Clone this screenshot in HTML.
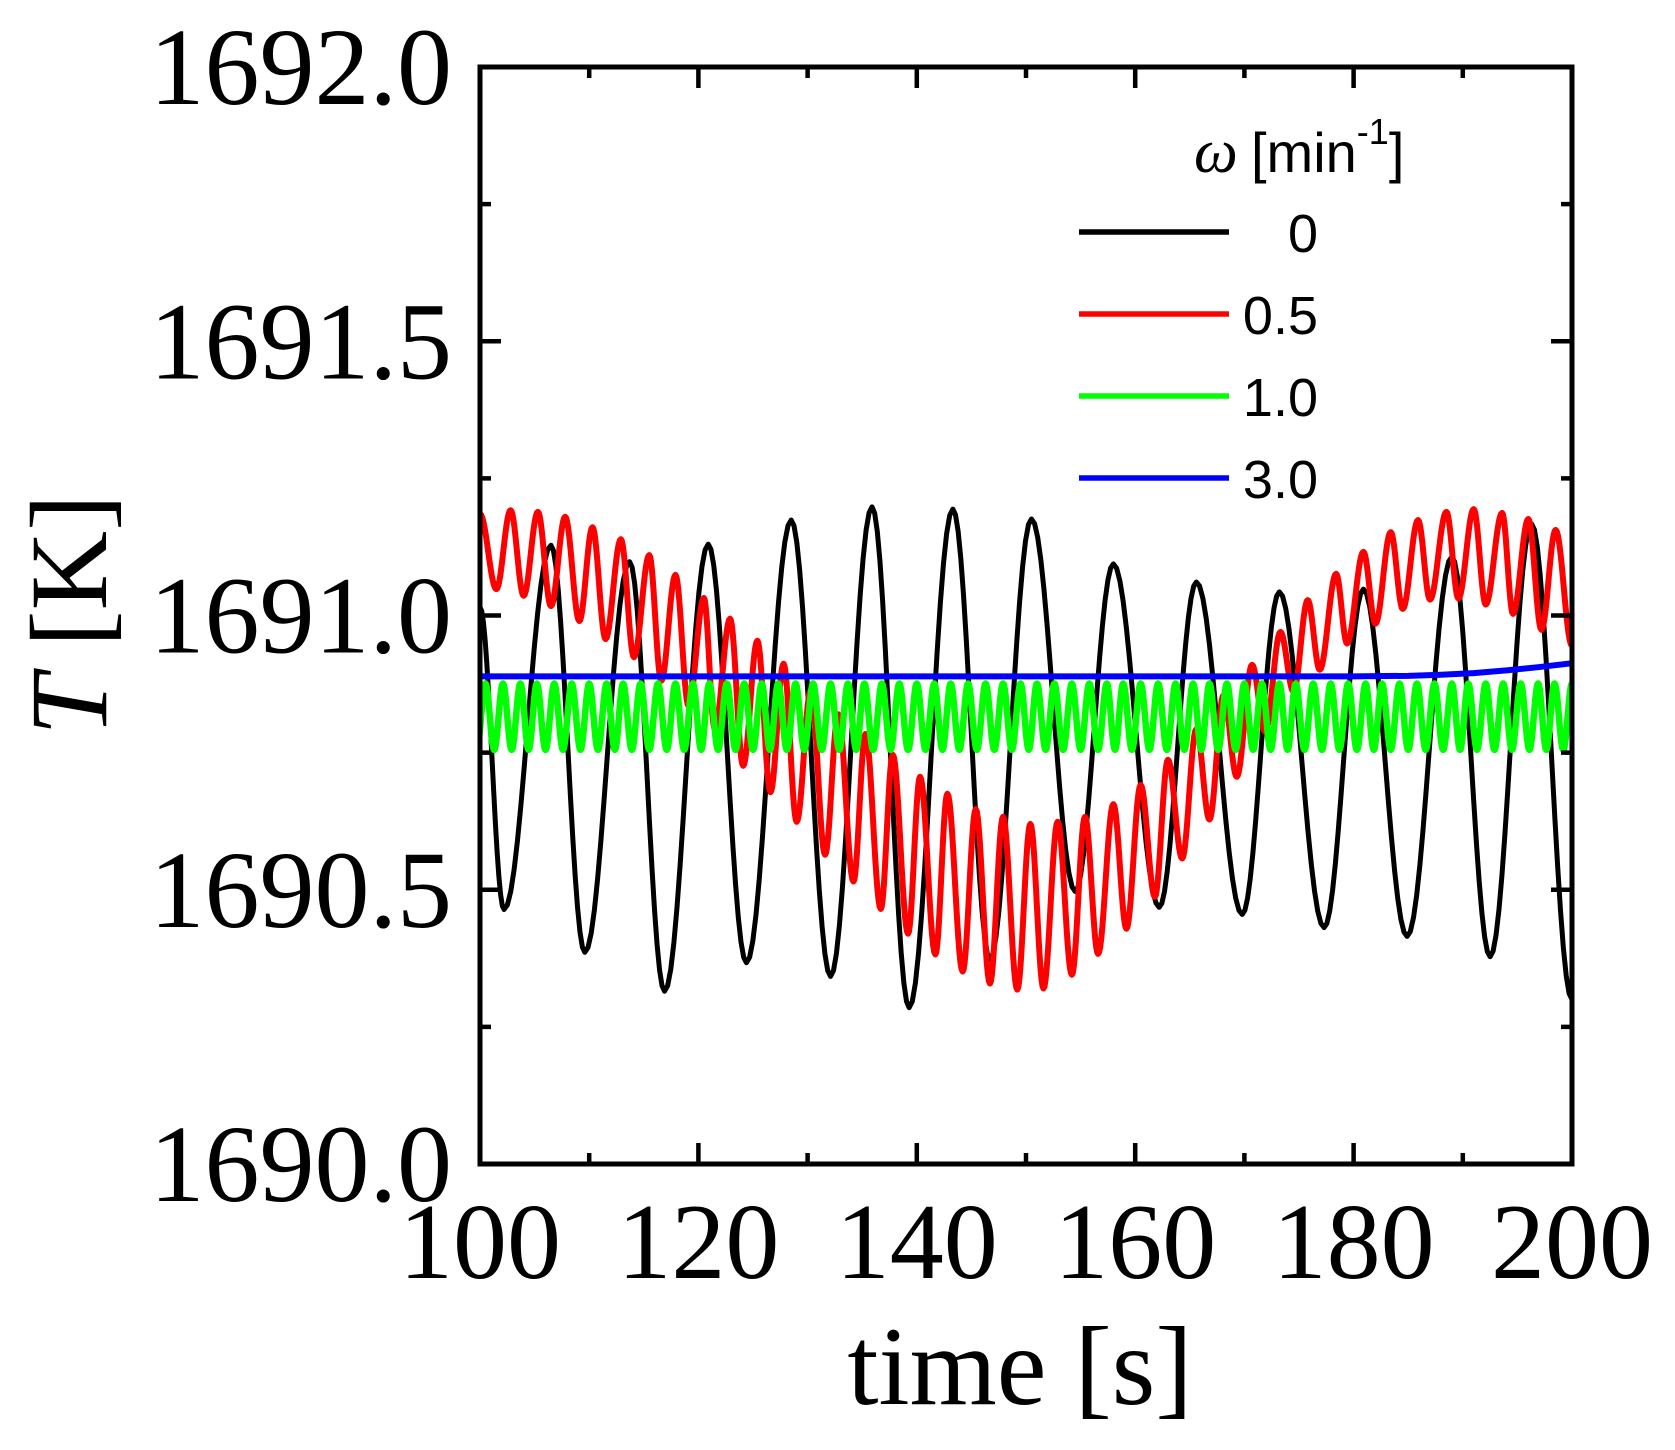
<!DOCTYPE html>
<html><head><meta charset="utf-8">
<style>
html,body{margin:0;padding:0;background:#fff;}
svg{display:block;}
</style></head>
<body>
<svg id="chart" width="1675" height="1450" viewBox="0 0 1675 1450" xmlns="http://www.w3.org/2000/svg">
<defs><clipPath id="plotclip"><rect x="480" y="67" width="1092" height="1097"/></clipPath></defs>
<g id="series" clip-path="url(#plotclip)"></g>
<rect x="480" y="67" width="1092" height="1097" fill="none" stroke="#000" stroke-width="5"/>
<g id="ticks"></g>
<g id="xlabels" font-family="'Liberation Serif', serif" font-size="108" text-anchor="middle"></g>
<g id="ylabels" font-family="'Liberation Serif', serif" font-size="110" text-anchor="end"></g>
<text x="1020" y="1404" font-family="'Liberation Serif', serif" font-size="112" text-anchor="middle">time [s]</text>
<text transform="translate(106,615) rotate(-90)" font-family="'Liberation Serif', serif" font-size="110" text-anchor="middle"><tspan font-style="italic">T</tspan> [K]</text>
<g>
  <text x="1194" y="172" font-family="'Liberation Serif', serif" font-style="italic" font-size="62">ω</text>
  <text x="1251" y="172" font-family="'Liberation Sans', sans-serif" font-size="56">[min<tspan dy="-28" font-size="36">-1</tspan><tspan dy="28">]</tspan></text>
  <g id="legendEntries"></g>
</g>
</svg>
<script>
// ---- data ----
const xTicks = [100, 120, 140, 160, 180, 200];
const xTickLabels = ["100", "120", "140", "160", "180", "200"];
const yTicks = [1690.0, 1690.5, 1691.0, 1691.5, 1692.0];
const yTickLabels = ["1690.0", "1690.5", "1691.0", "1691.5", "1692.0"];

// black (omega=0): extrema times / values
const blackT = [100.0,102.2,106.5,109.6,113.7,116.9,120.9,124.4,128.5,132.1,135.9,139.3,143.3,146.7,150.5,154.5,158.0,162.2,165.6,169.8,173.2,177.3,180.9,184.9,189.0,192.5,196.3,200.0];
const blackV = [1691.015,1690.464,1691.128,1690.386,1691.098,1690.315,1691.130,1690.367,1691.174,1690.342,1691.198,1690.285,1691.194,1690.373,1691.176,1690.497,1691.094,1690.468,1691.061,1690.455,1691.043,1690.431,1691.048,1690.415,1691.107,1690.378,1691.167,1690.300];

// red (omega=0.5): extrema
const redT = [100.0,101.5,102.8,104.0,105.3,106.5,107.8,109.1,110.3,111.5,112.9,114.1,115.5,116.6,117.9,119.1,120.5,121.5,122.9,124.1,125.4,126.6,127.8,129.0,130.3,131.6,132.8,134.2,135.3,136.7,137.8,139.2,140.3,141.7,142.8,144.2,145.4,146.7,147.9,149.2,150.4,151.6,152.9,154.2,155.4,156.6,158.0,159.2,160.5,161.8,163.0,164.3,165.6,166.8,168.1,169.3,170.7,171.9,173.3,174.5,175.8,176.9,178.4,179.4,180.9,182.0,183.4,184.5,185.9,187.0,188.5,189.6,191.0,192.1,193.6,194.6,196.0,197.2,198.5,200.0];
const redV = [1691.185,1691.048,1691.192,1691.036,1691.189,1691.017,1691.180,1690.990,1691.161,1690.957,1691.139,1690.924,1691.110,1690.881,1691.074,1690.835,1691.032,1690.793,1690.994,1690.726,1690.954,1690.678,1690.912,1690.624,1690.864,1690.564,1690.820,1690.515,1690.784,1690.465,1690.746,1690.420,1690.706,1690.382,1690.675,1690.351,1690.647,1690.329,1690.633,1690.318,1690.620,1690.320,1690.624,1690.345,1690.633,1690.383,1690.656,1690.429,1690.691,1690.487,1690.737,1690.557,1690.793,1690.628,1690.855,1690.706,1690.910,1690.788,1690.970,1690.861,1691.028,1690.901,1691.076,1690.949,1691.116,1690.985,1691.152,1691.012,1691.174,1691.029,1691.189,1691.031,1691.194,1691.020,1691.187,1691.003,1691.176,1690.974,1691.156,1690.945];

// green (omega=1.0): peak times, peak value, trough value (troughs lie between peaks)
const greenPeakT = [100.5,102.1,103.7,105.2,106.8,108.4,110.0,111.6,113.1,114.7,116.3,117.9,119.5,121.0,122.6,124.2,125.8,127.3,128.9,130.5,132.1,133.7,135.2,136.8,138.4,140.0,141.6,143.1,144.7,146.3,147.9,149.5,151.0,152.6,154.2,155.8,157.4,158.9,160.5,162.1,163.7,165.3,166.8,168.4,170.0,171.6,173.2,174.7,176.3,177.9,179.5,181.1,182.6,184.2,185.8,187.4,189.0,190.5,192.1,193.7,195.3,196.9,198.4,200.0];
const greenPeakV = 1690.876;
const greenTroughV = 1690.755;

// blue (omega=3.0)
const blueT = [100,120,140,160,180,185,188,191,194,197,200];
const blueV = [1690.889,1690.889,1690.889,1690.889,1690.889,1690.890,1690.892,1690.895,1690.900,1690.906,1690.913];

// ---- axes ----
const X0 = 480, X1 = 1572, Y0 = 1164, Y1 = 67;
const xMin = 100, xMax = 200, yMin = 1690, yMax = 1692;
function sx(t){ return X0 + (t - xMin) / (xMax - xMin) * (X1 - X0); }
function sy(v){ return Y0 - (v - yMin) / (yMax - yMin) * (Y0 - Y1); }
const NS = "http://www.w3.org/2000/svg";

function wavePath(ts, vs){
  let d = "M" + sx(ts[0]).toFixed(2) + "," + sy(vs[0]).toFixed(2);
  for (let i = 0; i < ts.length - 1; i++){
    const n = 14;
    for (let k = 1; k <= n; k++){
      const f = k / n;
      const t = ts[i] + (ts[i+1] - ts[i]) * f;
      const w = (1 - Math.cos(Math.PI * f)) / 2;
      const v = vs[i] + (vs[i+1] - vs[i]) * w;
      d += " L" + sx(t).toFixed(2) + "," + sy(v).toFixed(2);
    }
  }
  return d;
}
function addPath(d, color, width, name){
  const p = document.createElementNS(NS, "path");
  p.setAttribute("d", d);
  p.setAttribute("fill", "none");
  p.setAttribute("stroke", color);
  p.setAttribute("stroke-width", width);
  p.setAttribute("stroke-linejoin", "round");
  
  
  document.getElementById("series").appendChild(p);
}

// green extrema sequence
const gT = [], gV = [];
const gPeriod = greenPeakT[1] - greenPeakT[0];
gT.push(greenPeakT[0] - gPeriod / 2); gV.push(greenTroughV);
for (let i = 0; i < greenPeakT.length; i++){
  gT.push(greenPeakT[i]); gV.push(greenPeakV);
  if (i < greenPeakT.length - 1){
    gT.push((greenPeakT[i] + greenPeakT[i+1]) / 2); gV.push(greenTroughV);
  }
}

addPath(wavePath(blackT, blackV), "#000000", 5, "series-omega-0");
addPath(wavePath(redT, redV), "#ff0000", 6, "series-omega-0-5");
addPath(wavePath(gT, gV), "#00ff00", 6.5, "series-omega-1-0");
let bd = "M" + sx(blueT[0]) + "," + sy(blueV[0]);
for (let i = 1; i < blueT.length; i++) bd += " L" + sx(blueT[i]).toFixed(2) + "," + sy(blueV[i]).toFixed(2);
addPath(bd, "#0000ff", 6, "series-omega-3-0");

// ticks
const tg = document.getElementById("ticks");
function tick(x1, y1, x2, y2, name){
  const l = document.createElementNS(NS, "line");
  l.setAttribute("x1", x1); l.setAttribute("y1", y1);
  l.setAttribute("x2", x2); l.setAttribute("y2", y2);
  l.setAttribute("stroke", "#000"); l.setAttribute("stroke-width", 4.5);
  
  
  tg.appendChild(l);
}
for (let t = xMin + 10; t < xMax; t += 10){
  const major = (t % 20 === 0);
  const len = major ? 21 : 11;
  tick(sx(t), Y0, sx(t), Y0 - len, "x-tick");
  tick(sx(t), Y1, sx(t), Y1 + len, "x-tick-top");
}
for (let v = yMin + 0.25; v < yMax - 0.01; v += 0.25){
  const major = Math.abs((v * 2) - Math.round(v * 2)) < 1e-6;
  const len = major ? 21 : 11;
  tick(X0, sy(v), X0 + len, sy(v), "y-tick");
  tick(X1, sy(v), X1 - len, sy(v), "y-tick-right");
}

// tick labels
const xl = document.getElementById("xlabels");
xTicks.forEach((t, i) => {
  const e = document.createElementNS(NS, "text");
  e.setAttribute("x", sx(t)); e.setAttribute("y", 1278);
  e.textContent = xTickLabels[i];
  
  
  xl.appendChild(e);
});
const yl = document.getElementById("ylabels");
yTicks.forEach((v, i) => {
  const e = document.createElementNS(NS, "text");
  e.setAttribute("x", 452); e.setAttribute("y", sy(v) + 37);
  e.textContent = yTickLabels[i];
  
  
  yl.appendChild(e);
});

// legend
const legLabels = ["0", "0.5", "1.0", "3.0"];
const legColors = ["#000000", "#ff0000", "#00ff00", "#0000ff"];
const legY = [232, 314, 396, 478];
const lg = document.getElementById("legendEntries");
legLabels.forEach((lab, i) => {
  const g = document.createElementNS(NS, "g");
  
  
  const l = document.createElementNS(NS, "line");
  l.setAttribute("x1", 1079); l.setAttribute("x2", 1229);
  l.setAttribute("y1", legY[i]); l.setAttribute("y2", legY[i]);
  l.setAttribute("stroke", legColors[i]); l.setAttribute("stroke-width", 5.5);
  
  
  const t = document.createElementNS(NS, "text");
  t.setAttribute("x", 1318); t.setAttribute("y", legY[i] + 20);
  t.setAttribute("text-anchor", "end");
  t.setAttribute("font-family", "'Liberation Sans', sans-serif");
  t.setAttribute("font-size", 54);
  t.textContent = lab;
  
  
  g.appendChild(l); g.appendChild(t);
  lg.appendChild(g);
});
</script>
</body></html>
